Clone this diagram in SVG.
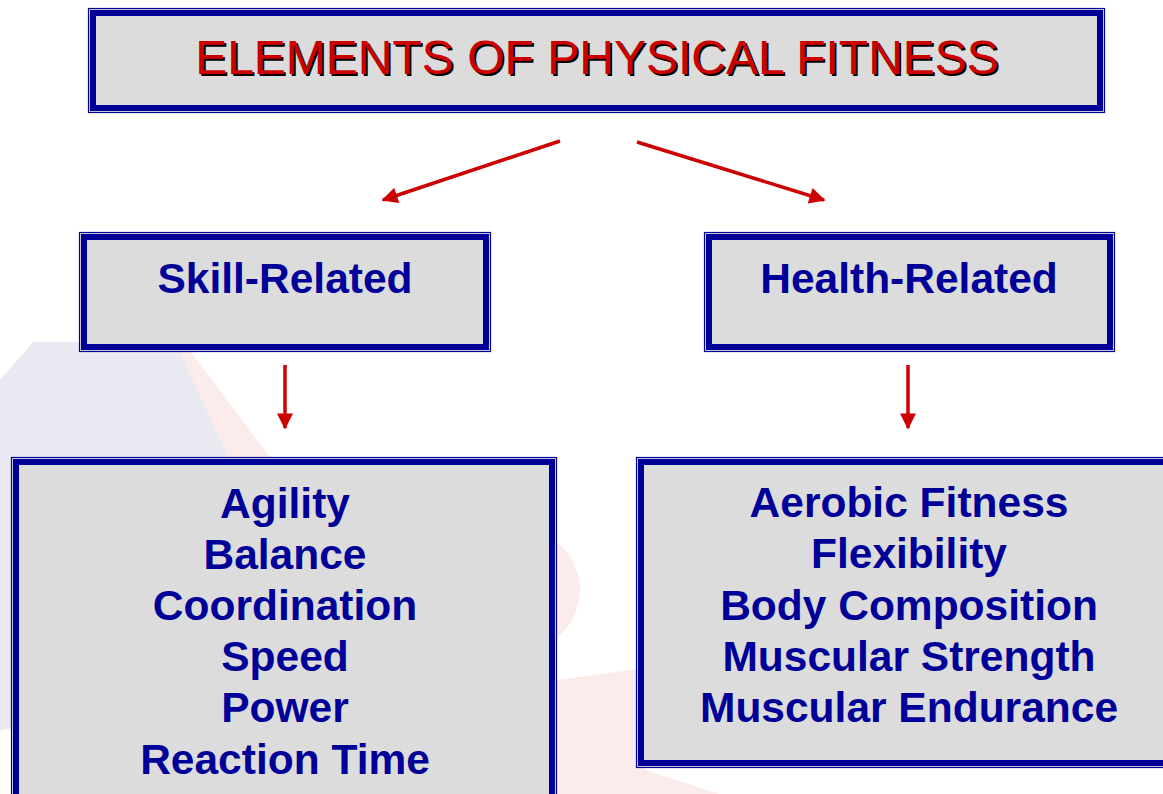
<svg xmlns="http://www.w3.org/2000/svg" width="1163" height="794" viewBox="0 0 1163 794">
<defs>
<style>
.outer{fill:#dcdcdc;stroke:#000099;stroke-width:1.2}
.thick{fill:none;stroke:#000099;stroke-width:6}
.lbl{font-family:"Liberation Sans",Arial,sans-serif;font-weight:bold;font-size:42.5px;fill:#000099;text-anchor:middle}
.title{font-family:"Liberation Sans",Arial,sans-serif;font-size:48px;text-anchor:middle}
.conn{stroke:#cc0000;stroke-width:3.5;fill:none}
</style>
<marker id="ah" viewBox="0 0 10 10" refX="9" refY="5" markerWidth="5" markerHeight="4.6" markerUnits="strokeWidth" orient="auto">
<path d="M0,0 L10,5 L0,10 Z" fill="#cc0000"/>
</marker>
</defs>
<rect width="1163" height="794" fill="#ffffff"/>
<g id="watermark">
<polygon points="0,380 33,342 178,342 230,460 230,700 0,730" fill="#e9e9f2"/>
<polygon points="178,348 188,348 270,457 228,457" fill="#fcebeb"/>
<circle cx="520" cy="590" r="60" fill="#fcebeb"/>
<polygon points="557,680 645,668 645,770 720,794 557,794" fill="#fcebeb"/>
</g>
<g id="title">
<rect class="outer" x="88.5" y="8.5" width="1016" height="104"/>
<rect class="thick" x="93" y="13" width="1007" height="95"/>
<text class="title" x="599" y="76" fill="#000000">ELEMENTS OF PHYSICAL FITNESS</text>
<text class="title" x="597" y="74" fill="#cc0000">ELEMENTS OF PHYSICAL FITNESS</text>
</g>
<g id="skill">
<rect class="outer" x="79.5" y="232.5" width="411" height="119"/>
<rect class="thick" x="84" y="237" width="402" height="110"/>
<text class="lbl" x="285" y="293">Skill-Related</text>
</g>
<g id="health">
<rect class="outer" x="704.5" y="232.5" width="410" height="119"/>
<rect class="thick" x="709" y="237" width="401" height="110"/>
<text class="lbl" x="909" y="293">Health-Related</text>
</g>
<g id="skill-list">
<rect class="outer" x="11.5" y="457.5" width="545" height="350"/>
<rect class="thick" x="16" y="462" width="536" height="341"/>
<text class="lbl" x="285" y="518">Agility</text>
<text class="lbl" x="285" y="569">Balance</text>
<text class="lbl" x="285" y="620">Coordination</text>
<text class="lbl" x="285" y="671">Speed</text>
<text class="lbl" x="285" y="722">Power</text>
<text class="lbl" x="285" y="774">Reaction Time</text>
</g>
<g id="health-list">
<rect class="outer" x="636.5" y="457.5" width="560" height="310"/>
<rect class="thick" x="641" y="462" width="551" height="301"/>
<text class="lbl" x="909" y="517">Aerobic Fitness</text>
<text class="lbl" x="909" y="568">Flexibility</text>
<text class="lbl" x="909" y="620">Body Composition</text>
<text class="lbl" x="909" y="671">Muscular Strength</text>
<text class="lbl" x="909" y="722">Muscular Endurance</text>
</g>
<g id="connectors">
<line class="conn" x1="560" y1="141" x2="383" y2="200" marker-end="url(#ah)"/>
<line class="conn" x1="637" y1="142" x2="824" y2="200" marker-end="url(#ah)"/>
<line class="conn" x1="285" y1="365" x2="285" y2="428" marker-end="url(#ah)"/>
<line class="conn" x1="908" y1="365" x2="908" y2="428" marker-end="url(#ah)"/>
</g>
</svg>
